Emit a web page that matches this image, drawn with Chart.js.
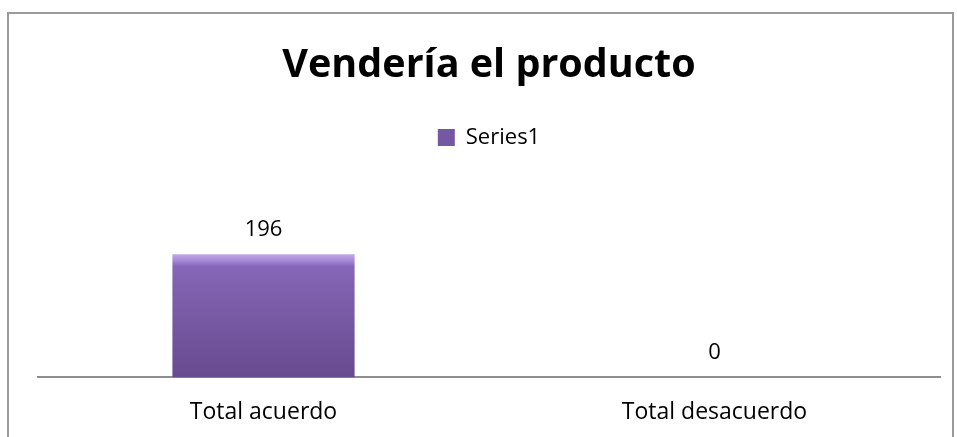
<!DOCTYPE html>
<html>
<head>
<meta charset="utf-8">
<script src="https://cdn.jsdelivr.net/npm/chart.js@4.4.1/dist/chart.umd.min.js"></script>
<style>
  html, body { margin: 0; padding: 0; background: #fff; overflow: hidden; }
  #wrap { position: relative; width: 957px; height: 437px; }
  #frame { position: absolute; left: 7px; top: 12px; width: 947px; height: 460px;
           border: 2px solid #9a9a9a; border-bottom: none; box-sizing: border-box; }
  canvas { position: absolute; left: 0; top: 0; }
</style>
</head>
<body>
<div id="wrap">
  <div id="frame"></div>
  <canvas id="c" width="957" height="437"></canvas>
</div>
<script>
const titleText = 'Vendería el producto';
const categories = ['Total acuerdo', 'Total desacuerdo'];
const seriesName = 'Series1';
const seriesValues = [196, 0];

const FONT = "'Open Sans', 'Noto Sans', sans-serif";

const dataLabels = {
  id: 'dataLabels',
  afterDatasetsDraw(chart) {
    const ctx = chart.ctx;
    const meta = chart.getDatasetMeta(0);
    ctx.save();
    ctx.font = "22px " + FONT;
    ctx.fillStyle = '#000';
    ctx.textAlign = 'center';
    ctx.textBaseline = 'middle';
    meta.data.forEach((el, i) => {
      ctx.fillText(String(seriesValues[i]), el.x, el.y - 25);
    });
    ctx.restore();
  }
};

const legendSpace = {
  id: 'legendSpace',
  beforeInit(chart) {
    const orig = chart.legend.fit;
    chart.legend.fit = function () {
      orig.call(this);
      this.height += 62;
    };
  }
};

new Chart(document.getElementById('c'), {
  type: 'bar',
  data: {
    labels: categories,
    datasets: [{
      label: seriesName,
      data: seriesValues,
      backgroundColor(context) {
        const chart = context.chart;
        const { ctx, chartArea, scales } = chart;
        if (!chartArea || context.type !== 'data') return '#7d5fab';
        const top = scales.y.getPixelForValue(context.raw);
        const bottom = scales.y.getPixelForValue(0);
        if (bottom - top < 2) return '#7d5fab';
        const g = ctx.createLinearGradient(0, top, 0, bottom);
        g.addColorStop(0, '#c0a8ec');
        g.addColorStop(0.05, '#a789d6');
        g.addColorStop(0.10, '#8566b8');
        g.addColorStop(0.35, '#7d5eab');
        g.addColorStop(1, '#674a8f');
        return g;
      },
      borderWidth: 0,
      barPercentage: 0.404,
      categoryPercentage: 1.0
    }]
  },
  options: {
    responsive: false,
    animation: false,
    layout: { padding: { left: 38, right: 17, top: 30, bottom: -10 } },
    plugins: {
      title: {
        display: true,
        text: titleText,
        color: '#000',
        font: { family: FONT, size: 39.5, weight: 'bold' },
        padding: { top: 12, bottom: 27 }
      },
      legend: {
        display: true,
        position: 'top',
        labels: {
          color: '#000',
          font: { family: FONT, size: 22 },
          boxWidth: 17,
          boxHeight: 17,
          padding: 10,
          generateLabels(chart) {
            return [{
              text: seriesName,
              fillStyle: '#7458a3',
              strokeStyle: '#5e4785',
              lineWidth: 0,
              datasetIndex: 0,
              hidden: false
            }];
          }
        }
      },
      tooltip: { enabled: false }
    },
    scales: {
      x: {
        grid: { display: false, drawTicks: false },
        border: { display: true, color: '#8e8e8e', width: 2 },
        ticks: { color: '#000', font: { family: FONT, size: 23 }, padding: 21 }
      },
      y: {
        display: false,
        min: 0,
        max: 250
      }
    }
  },
  plugins: [dataLabels, legendSpace]
});
</script>
</body>
</html>
